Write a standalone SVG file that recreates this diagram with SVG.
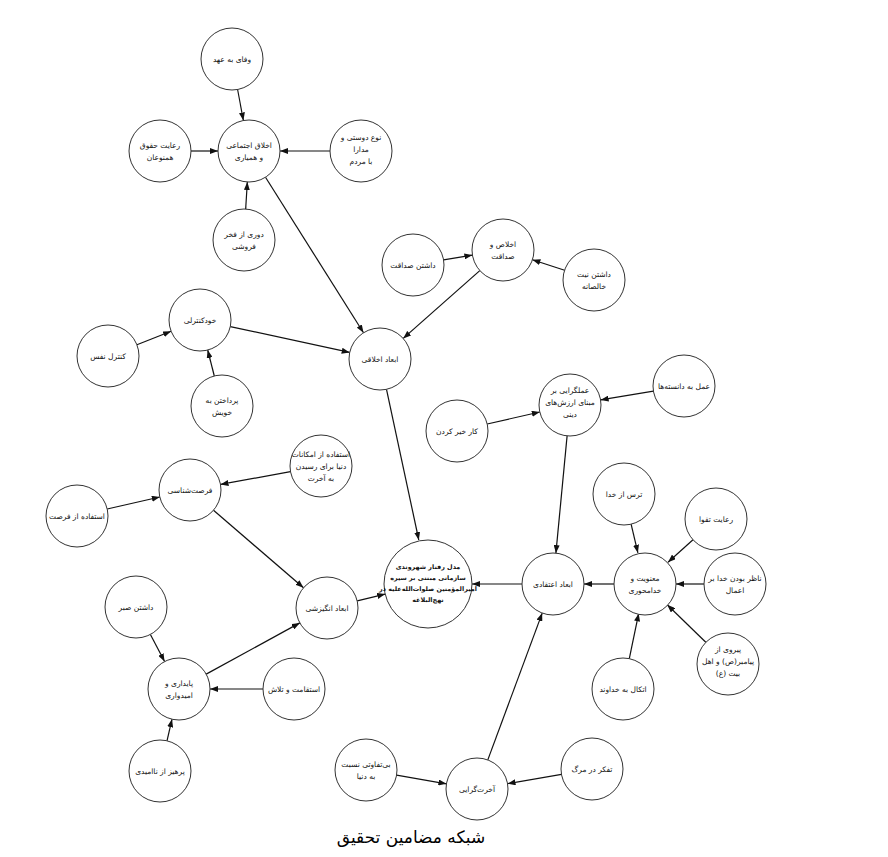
<svg xmlns="http://www.w3.org/2000/svg" width="888" height="857" viewBox="0 0 888 857">
<style>
  .n circle { fill: #ffffff; stroke: #333333; stroke-width: 1; }
  .n text { font-family: "DejaVu Sans", sans-serif; font-size: 7.5px; fill: #111111; text-anchor: middle; direction: rtl; }
  .main text { font-weight: bold; font-size: 6.4px; }
  .e line { stroke: #111111; stroke-width: 1.2; marker-end: url(#arr); }
  .title { font-family: "DejaVu Sans", sans-serif; font-size: 17px; fill: #000; text-anchor: middle; direction: rtl; }
</style>
<defs>
  <marker id="arr" markerUnits="userSpaceOnUse" markerWidth="8" markerHeight="6" refX="8" refY="3" orient="auto">
    <path d="M0,0 L8,3 L0,6 z" fill="#111111"/>
  </marker>
</defs>
<rect width="888" height="857" fill="#ffffff"/>
<g id="connectors" class="e">
  <line x1="237.6" y1="89.5" x2="243.4" y2="120.5"/>
  <line x1="191" y1="151" x2="218" y2="151"/>
  <line x1="330" y1="151" x2="280" y2="151"/>
  <line x1="245.7" y1="209" x2="247.3" y2="182"/>
  <line x1="265.5" y1="177.2" x2="363.5" y2="332.8"/>
  <line x1="443.6" y1="259.9" x2="472.4" y2="255.1"/>
  <line x1="564.6" y1="270.3" x2="532.4" y2="259.7"/>
  <line x1="479.8" y1="270.6" x2="403.2" y2="338.4"/>
  <line x1="136.9" y1="344.7" x2="171.1" y2="331.3"/>
  <line x1="214.3" y1="376" x2="207.7" y2="350"/>
  <line x1="230.3" y1="326.6" x2="349.7" y2="352.4"/>
  <line x1="386.5" y1="389.3" x2="418.8" y2="540"/>
  <line x1="653.4" y1="391.1" x2="600.6" y2="399.9"/>
  <line x1="487.2" y1="424" x2="539.8" y2="412"/>
  <line x1="567.1" y1="435.9" x2="555.9" y2="553.1"/>
  <line x1="631.1" y1="524.2" x2="637.9" y2="552.8"/>
  <line x1="693" y1="539.8" x2="668" y2="562.2"/>
  <line x1="704" y1="584" x2="676" y2="584"/>
  <line x1="705.8" y1="642.3" x2="667.2" y2="604.7"/>
  <line x1="629.3" y1="658.6" x2="638.7" y2="613.4"/>
  <line x1="614" y1="584" x2="584" y2="584"/>
  <line x1="522" y1="584" x2="472" y2="584"/>
  <line x1="487.8" y1="759.9" x2="542.2" y2="613.1"/>
  <line x1="396.6" y1="775.2" x2="446.4" y2="783.8"/>
  <line x1="561.5" y1="774.3" x2="507.5" y2="783.7"/>
  <line x1="290.5" y1="471.6" x2="220.5" y2="484.4"/>
  <line x1="107.2" y1="509" x2="159.8" y2="497"/>
  <line x1="213.5" y1="510.2" x2="303.5" y2="587.8"/>
  <line x1="206.2" y1="674.1" x2="299.8" y2="622.9"/>
  <line x1="357.2" y1="600.8" x2="385.2" y2="594.1"/>
  <line x1="150.4" y1="634.5" x2="164.6" y2="661.5"/>
  <line x1="263" y1="689" x2="210" y2="689"/>
  <line x1="167" y1="740.8" x2="172" y2="719.2"/>
</g>
<g id="n-vafa" class="n"><circle cx="232" cy="59" r="31"/><text x="232" y="62">وفای به عهد</text></g>
<g id="n-akhlagh-ejtemaei" class="n"><circle cx="249" cy="151" r="31"/><text x="249" y="148">اخلاق اجتماعی<tspan x="249" dy="12">و همیاری</tspan></text></g>
<g id="n-hoghoogh" class="n"><circle cx="160" cy="151" r="31"/><text x="160" y="148">رعایت حقوق<tspan x="160" dy="12">همنوعان</tspan></text></g>
<g id="n-nooedoosti" class="n"><circle cx="361" cy="151" r="31"/><text x="361" y="140">نوع دوستی و<tspan x="361" dy="12">مدارا</tspan><tspan x="361" dy="12">با مردم</tspan></text></g>
<g id="n-fakhr" class="n"><circle cx="244" cy="240" r="31"/><text x="244" y="237">دوری از فخر<tspan x="244" dy="12">فروشی</tspan></text></g>
<g id="n-ekhlas" class="n"><circle cx="503" cy="250" r="31"/><text x="503" y="247">اخلاص و<tspan x="503" dy="12">صداقت</tspan></text></g>
<g id="n-sedaghat" class="n"><circle cx="413" cy="265" r="31"/><text x="413" y="268">داشتن صداقت</text></g>
<g id="n-niyat" class="n"><circle cx="594" cy="280" r="31"/><text x="594" y="277">داشتن نیت<tspan x="594" dy="12">خالصانه</tspan></text></g>
<g id="n-khodkontroli" class="n"><circle cx="200" cy="320" r="31"/><text x="200" y="323">خودکنترلی</text></g>
<g id="n-kontrolnafs" class="n"><circle cx="108" cy="356" r="31"/><text x="108" y="359">کنترل نفس</text></g>
<g id="n-pardakhtan" class="n"><circle cx="222" cy="406" r="31"/><text x="222" y="403">پرداختن به<tspan x="222" dy="12">خویش</tspan></text></g>
<g id="n-akhlaghi" class="n"><circle cx="380" cy="359" r="31"/><text x="380" y="362">ابعاد اخلاقی</text></g>
<g id="n-amalgaraei" class="n"><circle cx="570" cy="405" r="31"/><text x="570" y="393">عملگرایی بر<tspan x="570" dy="12">مبنای ارزش‌های</tspan><tspan x="570" dy="12">دینی</tspan></text></g>
<g id="n-danesteha" class="n"><circle cx="684" cy="386" r="31"/><text x="684" y="389">عمل به دانسته‌ها</text></g>
<g id="n-kharir" class="n"><circle cx="457" cy="431" r="31"/><text x="457" y="434">کار خیر کردن</text></g>
<g id="n-emkanat" class="n"><circle cx="321" cy="466" r="31"/><text x="321" y="457">استفاده از امکانات<tspan x="321" dy="12">دنیا برای رسیدن</tspan><tspan x="321" dy="12">به آخرت</tspan></text></g>
<g id="n-forsatshenasi" class="n"><circle cx="190" cy="490" r="31"/><text x="190" y="493">فرصت‌شناسی</text></g>
<g id="n-forsat" class="n"><circle cx="77" cy="516" r="31"/><text x="77" y="519">استفاده از فرصت</text></g>
<g id="n-tars" class="n"><circle cx="624" cy="494" r="31"/><text x="624" y="497">ترس از خدا</text></g>
<g id="n-taghva" class="n"><circle cx="716" cy="519" r="31"/><text x="716" y="522">رعایت تقوا</text></g>
<g id="n-model" class="n main"><circle cx="428" cy="584" r="44"/><text x="428" y="569">مدل رفتار شهروندی<tspan x="428" dy="11">سازمانی مبتنی بر سیره</tspan><tspan x="428" dy="11">امیرالمؤمنین صلوات‌الله‌علیه در</tspan><tspan x="428" dy="11">نهج‌البلاغه</tspan></text></g>
<g id="n-etteghadi" class="n"><circle cx="553" cy="584" r="31"/><text x="553" y="587">ابعاد اعتقادی</text></g>
<g id="n-manaviat" class="n"><circle cx="645" cy="584" r="31"/><text x="645" y="581">معنویت و<tspan x="645" dy="12">خدامحوری</tspan></text></g>
<g id="n-nazer" class="n"><circle cx="735" cy="584" r="31"/><text x="735" y="581">ناظر بودن خدا بر<tspan x="735" dy="12">اعمال</tspan></text></g>
<g id="n-peyravi" class="n"><circle cx="728" cy="664" r="31"/><text x="728" y="652">پیروی از<tspan x="728" dy="12">پیامبر(ص) و اهل</tspan><tspan x="728" dy="12">بیت (ع)</tspan></text></g>
<g id="n-ettekal" class="n"><circle cx="623" cy="689" r="31"/><text x="623" y="692">اتکال به خداوند</text></g>
<g id="n-angizeshi" class="n"><circle cx="327" cy="608" r="31"/><text x="327" y="611">ابعاد انگیزشی</text></g>
<g id="n-sabr" class="n"><circle cx="136" cy="607" r="31"/><text x="136" y="610">داشتن صبر</text></g>
<g id="n-paydari" class="n"><circle cx="179" cy="689" r="31"/><text x="179" y="686">پایداری و<tspan x="179" dy="12">امیدواری</tspan></text></g>
<g id="n-esteghamat" class="n"><circle cx="294" cy="689" r="31"/><text x="294" y="692">استقامت و تلاش</text></g>
<g id="n-parhiz" class="n"><circle cx="160" cy="771" r="31"/><text x="160" y="774">پرهیز از ناامیدی</text></g>
<g id="n-bitafavoti" class="n"><circle cx="366" cy="770" r="31"/><text x="366" y="767">بی‌تفاوتی نسبت<tspan x="366" dy="12">به دنیا</tspan></text></g>
<g id="n-akharat" class="n"><circle cx="477" cy="789" r="31"/><text x="477" y="792">آخرت‌گرایی</text></g>
<g id="n-tafakor" class="n"><circle cx="592" cy="769" r="31"/><text x="592" y="772">تفکر در مرگ</text></g>
<text class="title" x="411" y="843">شبکه مضامین تحقیق</text>
</svg>
